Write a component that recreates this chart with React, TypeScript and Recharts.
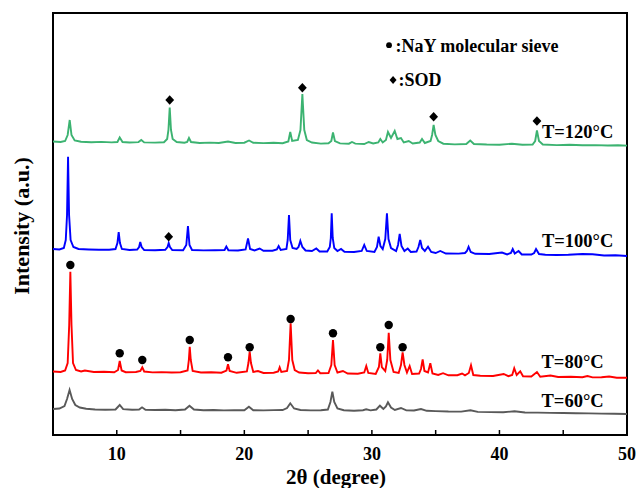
import React from 'react';
import { ComposedChart, Line, Scatter, XAxis, YAxis, ReferenceArea } from 'recharts';

const FONT = "'Liberation Serif', 'Times New Roman', Times, serif";

// x axis (2θ, degree)
const xTicks = [10, 15, 20, 25, 30, 35, 40, 45, 50];
const xLabelTicks = [10, 20, 30, 40, 50];

// Diffraction patterns: [2θ, intensity (a.u., stacked)]
const pattern60: [number, number][] = [
  [5.0, 26], [5.5, 26.5], [5.9, 29], [6.1, 36], [6.3, 45], [6.5, 36], [6.75, 30], [7.1, 27.5], [7.6, 26.3],
  [8.3, 25.5], [9.1, 25.3], [9.9, 25.5], [10.23, 30], [10.5, 25.8], [11.2, 25.2], [11.75, 25.5], [11.98, 27.7],
  [12.25, 25.3], [13.0, 25], [13.8, 25.3], [14.6, 24.8], [15.35, 25.5], [15.7, 29.3], [16.05, 25.5], [16.8, 24.8],
  [17.6, 25], [18.4, 24.6], [19.2, 24.9], [20.0, 24.7], [20.36, 28.3], [20.7, 24.8], [21.5, 24.6], [22.3, 24.9],
  [23.0, 25], [23.35, 27], [23.6, 31.7], [23.9, 26.5], [24.4, 25], [25.2, 24.6], [26.0, 24.8], [26.55, 25.5],
  [26.75, 33], [26.9, 43.3], [27.05, 33], [27.3, 26.5], [27.8, 24.8], [28.6, 24.3], [29.3, 24.8], [29.55, 25.7],
  [29.9, 24.6], [30.35, 25.5], [30.63, 29.3], [30.9, 26], [31.1, 28.5], [31.26, 32.7], [31.5, 27.5], [31.8, 25],
  [32.28, 27], [32.7, 24.6], [33.3, 24.5], [33.85, 26], [34.3, 24.2], [35.0, 23.9], [36.0, 23.5], [37.0, 23.4],
  [37.73, 24.8], [38.3, 23.1], [39.3, 22.9], [40.3, 22.7], [41.18, 23.8], [42.0, 22.5], [43.0, 22.4], [44.0, 22.1],
  [45.0, 22], [46.0, 21.7], [47.0, 21.6], [48.0, 21.4], [49.0, 21.3], [50.0, 21],
];

const pattern80: [number, number][] = [
  [5.0, 63.5], [5.6, 63], [5.95, 64.5], [6.15, 72], [6.27, 110], [6.36, 163.3], [6.45, 110], [6.57, 72], [6.8, 65],
  [7.2, 63.5], [7.5, 64.5], [8.2, 63], [9.0, 63.3], [9.8, 62.8], [10.1, 65], [10.23, 74], [10.38, 64.5], [10.7, 62.8],
  [11.5, 63], [11.85, 64], [12.0, 67.7], [12.15, 63.5], [12.8, 62.6], [13.5, 62.9], [14.3, 62.5], [15.0, 62.8],
  [15.55, 64.5], [15.65, 75], [15.72, 88.3], [15.8, 75], [15.95, 64], [16.6, 62.5], [17.4, 62.7], [18.2, 62.3],
  [18.6, 64.5], [18.72, 70.7], [18.85, 64], [19.4, 62.2], [20.2, 63.5], [20.32, 72], [20.42, 83.3], [20.52, 72],
  [20.7, 63], [21.07, 64], [21.5, 62], [22.3, 62.3], [22.65, 63.5], [22.77, 67.7], [22.9, 63], [23.35, 64],
  [23.5, 75], [23.63, 111.7], [23.76, 75], [23.95, 65], [24.3, 62.5], [25.0, 61.8], [25.6, 62], [25.77, 64.5],
  [25.95, 61.8], [26.6, 62], [26.82, 70], [26.95, 95], [27.08, 70], [27.3, 62.5], [27.73, 64], [28.1, 61.5],
  [28.9, 61.2], [29.4, 62.5], [29.56, 69], [29.72, 62], [30.3, 61], [30.55, 68], [30.66, 81.7], [30.78, 68],
  [31.05, 64], [31.2, 75], [31.32, 102.3], [31.45, 75], [31.7, 63], [32.1, 62], [32.28, 70], [32.41, 82.7],
  [32.55, 70], [32.75, 62.5], [32.96, 69], [33.15, 61], [33.7, 61.5], [33.85, 66], [33.98, 75.7], [34.12, 64],
  [34.4, 62.5], [34.58, 71.7], [34.75, 61.5], [35.2, 60], [35.58, 61.8], [36.0, 59.7], [36.7, 59.8], [37.07, 61.5],
  [37.3, 59.7], [37.6, 62], [37.77, 69.7], [37.95, 60], [38.5, 59.3], [39.5, 59], [40.33, 61], [40.7, 58.8],
  [41.0, 60], [41.16, 66.7], [41.35, 60], [41.63, 63.7], [41.85, 58.7], [42.5, 58.5], [42.94, 63], [43.2, 58.3],
  [44.0, 59.5], [44.6, 58], [45.6, 58.2], [46.5, 57.8], [46.9, 59], [47.3, 57.6], [48.0, 57.8], [48.6, 58.5],
  [49.2, 57.3], [50.0, 57.2],
];

const pattern100: [number, number][] = [
  [5.0, 186], [5.5, 185.5], [5.85, 187], [6.0, 195], [6.1, 220], [6.18, 278.3], [6.26, 220], [6.38, 195], [6.6, 188],
  [7.0, 186], [7.8, 185.5], [8.6, 185.2], [9.4, 185.3], [9.9, 186], [10.05, 192], [10.15, 203], [10.25, 192],
  [10.4, 186], [11.0, 185], [11.6, 185.5], [11.75, 188], [11.84, 193], [11.95, 188], [12.15, 185], [13.0, 184.8],
  [13.8, 185.2], [13.98, 188], [14.07, 192], [14.17, 188], [14.35, 185], [15.2, 184.8], [15.45, 190], [15.58, 209],
  [15.7, 190], [15.9, 185], [16.8, 184.6], [17.7, 184.8], [18.45, 185], [18.59, 188.5], [18.75, 184.8], [19.5, 184.5],
  [20.1, 185.5], [20.29, 196.5], [20.45, 186], [20.8, 184.5], [21.2, 186.5], [21.5, 184.3], [22.2, 184.3],
  [22.55, 185.5], [22.69, 189], [22.85, 185], [23.3, 186], [23.4, 195], [23.5, 220], [23.6, 195], [23.78, 187],
  [24.1, 186], [24.25, 188], [24.39, 194], [24.55, 188], [24.8, 184.5], [25.3, 184], [25.64, 186.5], [25.9, 183.5],
  [26.5, 183.5], [26.7, 188], [26.78, 197], [26.85, 221.7], [26.93, 197], [27.05, 187], [27.3, 184], [27.58, 186],
  [27.85, 183.2], [28.6, 183], [29.2, 184], [29.4, 190], [29.6, 184], [30.2, 183], [30.4, 188], [30.53, 198.3],
  [30.67, 189], [30.85, 186], [31.05, 196], [31.18, 221.7], [31.3, 196], [31.5, 187], [31.9, 184], [32.05, 190],
  [32.18, 201], [32.32, 189], [32.55, 184], [32.81, 186.5], [33.05, 183], [33.5, 183.5], [33.65, 188], [33.79, 195],
  [33.93, 187], [34.15, 184], [34.4, 188.3], [34.65, 183], [35.0, 182], [35.36, 184], [35.8, 181.5], [36.8, 181.4],
  [37.3, 182], [37.45, 184], [37.58, 188.3], [37.75, 183], [38.1, 181.2], [39.2, 181], [40.2, 182.5], [40.6, 180.6],
  [40.9, 182], [41.04, 186], [41.2, 181.5], [41.5, 184], [41.75, 180.5], [42.5, 180.5], [42.72, 182], [42.87, 186],
  [43.1, 181], [43.6, 180.2], [44.5, 180], [45.4, 180.3], [46.5, 181], [47.3, 180.8], [48.2, 179.5], [49.1, 179.8],
  [50.0, 179],
];

const pattern120: [number, number][] = [
  [5.0, 293.5], [5.6, 293], [5.95, 294], [6.15, 300], [6.31, 315], [6.45, 300], [6.7, 294.5], [7.2, 293.2],
  [8.0, 292.8], [8.8, 293.1], [9.6, 292.6], [10.05, 293], [10.23, 297.5], [10.45, 293], [11.0, 292.5], [11.7, 292.9],
  [11.92, 295], [12.15, 292.6], [13.0, 292.4], [13.7, 292.8], [13.95, 296], [14.05, 305], [14.15, 327.5],
  [14.25, 305], [14.38, 296], [14.7, 293], [15.3, 292.3], [15.52, 293], [15.66, 297], [15.82, 293], [16.5, 292],
  [17.3, 292.4], [18.0, 292], [18.72, 293.5], [19.3, 292], [20.0, 292.3], [20.37, 294.5], [20.7, 292.2],
  [21.5, 291.9], [22.3, 292.2], [23.0, 291.8], [23.45, 293.5], [23.6, 303], [23.75, 294], [24.2, 295], [24.4, 305],
  [24.55, 341], [24.7, 305], [24.9, 295], [25.3, 292.5], [26.0, 291.4], [26.6, 291.7], [26.82, 294], [26.95, 302.5],
  [27.1, 294], [27.5, 291.6], [28.2, 291.3], [28.44, 293], [28.7, 291.4], [29.4, 291], [29.75, 293], [30.1, 291.5],
  [30.5, 292.5], [30.66, 296], [30.85, 292.5], [31.1, 295], [31.26, 303], [31.5, 297], [31.79, 304], [32.0, 296],
  [32.28, 297], [32.5, 292.5], [32.89, 294], [33.2, 291.5], [33.75, 292.5], [33.93, 296], [34.15, 292], [34.6, 294],
  [34.72, 300], [34.84, 310], [34.98, 300], [35.2, 294], [35.6, 291.3], [36.5, 290.6], [37.4, 291], [37.71, 294.5],
  [38.0, 291], [39.0, 290.5], [40.0, 290.3], [40.98, 291.3], [41.8, 290.3], [42.6, 290.5], [42.8, 294],
  [42.94, 304.5], [43.1, 294], [43.4, 290.5], [44.5, 289.9], [45.5, 290.2], [46.5, 289.7], [47.5, 289.9],
  [48.5, 289.5], [49.3, 289.7], [50.0, 289.4],
];

// Peak markers: NaY molecular sieve (●) and SOD (◆)
const nayMarks: [number, number][] = [
  [6.36, 170], [10.23, 81.7], [12.0, 75], [15.72, 95], [18.72, 77.7], [20.42, 87.7],
  [23.63, 116], [26.95, 101.7], [30.66, 87.7], [31.32, 110], [32.41, 87.7],
];
const sodMarks: [number, number][] = [
  [14.07, 198.3], [14.15, 335], [24.55, 347.3], [34.84, 318.3], [42.94, 314],
];

// Sample labels
const sampleNames = ['T=120°C', 'T=100°C', 'T=80°C', 'T=60°C'];
const sampleLabelX = [43.33, 43.33, 43.3, 43.3];
const sampleLabelY = [296.7, 187.7, 67.5, 28.3];

// Legend entries
const legendTexts = [':NaY molecular sieve', ':SOD'];
const legendKinds = ['dot', 'diamond'];
const legendX = [31.11, 31.11];
const legendY = [383.3, 349];

const toPts = (arr: [number, number][]) => arr.map(([x, y]) => ({ x, y }));

const labelData = sampleNames.map((text, i) => ({ x: sampleLabelX[i], y: sampleLabelY[i], text }));
const legendData = legendTexts.map((text, i) => ({ x: legendX[i], y: legendY[i], text, kind: legendKinds[i] }));

const CircleMark = (p: any) => <circle cx={p.cx} cy={p.cy} r={4.2} fill="#000" />;
const DiamondMark = (p: any) => (
  <path d={`M${p.cx},${p.cy - 4.8}L${p.cx + 4.4},${p.cy}L${p.cx},${p.cy + 4.8}L${p.cx - 4.4},${p.cy}Z`} fill="#000" />
);

const TextMark = (p: any) => (
  <text x={p.cx} y={p.cy} fontFamily={FONT} fontWeight="bold" fontSize={18.5} fill="#000">
    {p.payload.text}
  </text>
);

const LegendMark = (p: any) => {
  const { cx, cy } = p;
  if (p.payload.kind === 'dot') {
    return (
      <g>
        <circle cx={cx + 3} cy={cy - 6.5} r={2.9} fill="#000" />
        <text x={cx + 9.5} y={cy} fontFamily={FONT} fontWeight="bold" fontSize={18} fill="#000">
          {p.payload.text}
        </text>
      </g>
    );
  }
  const dx = cx + 7;
  const dy = cy - 6;
  return (
    <g>
      <path d={`M${dx},${dy - 4}L${dx + 3.5},${dy}L${dx},${dy + 4}L${dx - 3.5},${dy}Z`} fill="#000" />
      <text x={cx + 12.5} y={cy} fontFamily={FONT} fontWeight="bold" fontSize={18} fill="#000">
        {p.payload.text}
      </text>
    </g>
  );
};

const XTitle = (props: any) => {
  const vb = props.viewBox || {};
  const x = vb.x + vb.width / 2 - 4;
  const y = vb.y + 49;
  return (
    <text x={x} y={y} textAnchor="middle" fontFamily={FONT} fontWeight="bold" fontSize={21} fill="#000">
      2θ (degree)
    </text>
  );
};

const YTitle = (props: any) => {
  const vb = props.viewBox || {};
  const x = vb.x + 21;
  const y = vb.y + vb.height / 2 + 2;
  return (
    <text
      x={x}
      y={y}
      transform={`rotate(-90 ${x} ${y})`}
      textAnchor="middle"
      dominantBaseline="central"
      fontFamily={FONT}
      fontWeight="bold"
      fontSize={22}
      fill="#000"
    >
      Intensity (a.u.)
    </text>
  );
};

export default function App() {
  return (
    <div style={{ position: 'absolute', left: 0, top: 0, width: 639, height: 488, background: '#fff' }}>
      <ComposedChart width={639} height={488} margin={{ top: 13, right: 12, bottom: 0, left: 0 }}>
        <XAxis
          dataKey="x"
          type="number"
          domain={[5, 50]}
          allowDataOverflow
          ticks={xTicks}
          interval={0}
          tickFormatter={(v: number) => (xLabelTicks.includes(v) ? String(v) : '')}
          axisLine={false}
          tickLine={{ stroke: '#000', strokeWidth: 1.5 }}
          tickSize={-5}
          tickMargin={17}
          height={53}
          tick={{ fill: '#000', fontSize: 18, fontWeight: 'bold', fontFamily: FONT }}
          label={<XTitle />}
        />
        <YAxis
          type="number"
          domain={[0, 422]}
          allowDataOverflow
          width={53}
          tick={false}
          tickLine={false}
          axisLine={false}
          label={<YTitle />}
        />
        <ReferenceArea
          x1={5}
          x2={50}
          y1={0}
          y2={422}
          fill="none"
          fillOpacity={0}
          stroke="#000"
          strokeWidth={2}
          ifOverflow="visible"
        />
        <Line data={toPts(pattern60)} dataKey="y" type="linear" stroke="#595959" strokeWidth={1.9} dot={false} isAnimationActive={false} />
        <Line data={toPts(pattern80)} dataKey="y" type="linear" stroke="#ff0000" strokeWidth={1.9} dot={false} isAnimationActive={false} />
        <Line data={toPts(pattern100)} dataKey="y" type="linear" stroke="#0000ff" strokeWidth={1.9} dot={false} isAnimationActive={false} />
        <Line data={toPts(pattern120)} dataKey="y" type="linear" stroke="#3cb371" strokeWidth={1.9} dot={false} isAnimationActive={false} />
        <Scatter data={toPts(nayMarks)} dataKey="y" shape={CircleMark} isAnimationActive={false} />
        <Scatter data={toPts(sodMarks)} dataKey="y" shape={DiamondMark} isAnimationActive={false} />
        <Scatter data={labelData} dataKey="y" shape={TextMark} isAnimationActive={false} />
        <Scatter data={legendData} dataKey="y" shape={LegendMark} isAnimationActive={false} />
      </ComposedChart>
    </div>
  );
}
